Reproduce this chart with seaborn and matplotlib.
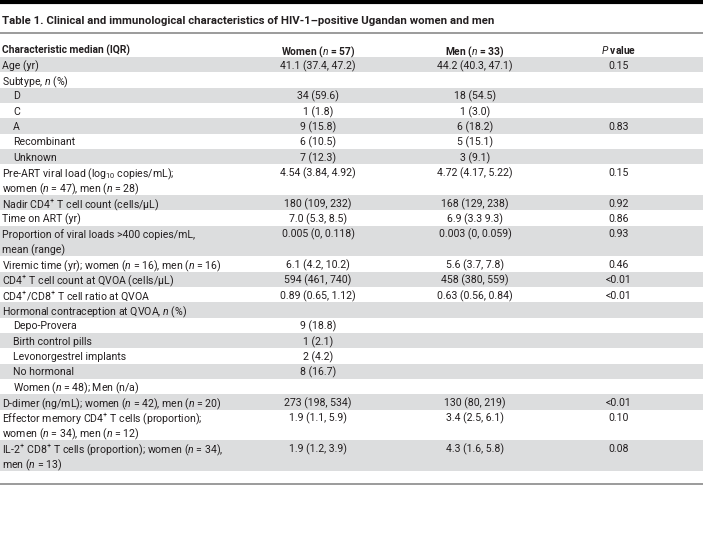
import matplotlib
matplotlib.use("Agg")
import matplotlib.pyplot as plt
import seaborn as sns

# table content
title = "Table 1. Clinical and immunological characteristics of HIV-1–positive Ugandan women and men"
headers = ["Characteristic median (IQR)", "Women ($n$ = 57)", "Men ($n$ = 33)", "$P$ value"]

characteristics = [
    "Age (yr)",
    "Subtype, $n$ (%)",
    "D", "C", "A", "Recombinant", "Unknown",
    "Pre-ART viral load (log$_{10}$ copies/mL);\nwomen ($n$ = 47), men ($n$ = 28)",
    "Nadir CD4$^{+}$ T cell count (cells/μL)",
    "Time on ART (yr)",
    "Proportion of viral loads >400 copies/mL,\nmean (range)",
    "Viremic time (yr); women ($n$ = 16), men ($n$ = 16)",
    "CD4$^{+}$ T cell count at QVOA (cells/μL)",
    "CD4$^{+}$/CD8$^{+}$ T cell ratio at QVOA",
    "Hormonal contraception at QVOA, $n$ (%)",
    "Depo-Provera", "Birth control pills", "Levonorgestrel implants", "No hormonal",
    "Women ($n$ = 48); Men (n/a)",
    "D-dimer (ng/mL); women ($n$ = 42), men ($n$ = 20)",
    "Effector memory CD4$^{+}$ T cells (proportion);\nwomen ($n$ = 34), men ($n$ = 12)",
    "IL-2$^{+}$ CD8$^{+}$ T cells (proportion); women ($n$ = 34),\nmen ($n$ = 13)",
]
indented = [False, False, True, True, True, True, True, False, False, False, False,
            False, False, False, False, True, True, True, True, True, False, False, False]
women = ["41.1 (37.4, 47.2)", "", "34 (59.6)", "1 (1.8)", "9 (15.8)", "6 (10.5)", "7 (12.3)",
         "4.54 (3.84, 4.92)", "180 (109, 232)", "7.0 (5.3, 8.5)", "0.005 (0, 0.118)",
         "6.1 (4.2, 10.2)", "594 (461, 740)", "0.89 (0.65, 1.12)", "", "9 (18.8)", "1 (2.1)",
         "2 (4.2)", "8 (16.7)", "", "273 (198, 534)", "1.9 (1.1, 5.9)", "1.9 (1.2, 3.9)"]
men = ["44.2 (40.3, 47.1)", "", "18 (54.5)", "1 (3.0)", "6 (18.2)", "5 (15.1)", "3 (9.1)",
       "4.72 (4.17, 5.22)", "168 (129, 238)", "6.9 (3.3 9.3)", "0.003 (0, 0.059)",
       "5.6 (3.7, 7.8)", "458 (380, 559)", "0.63 (0.56, 0.84)", "", "", "", "", "", "",
       "130 (80, 219)", "3.4 (2.5, 6.1)", "4.3 (1.6, 5.8)"]
pvals = ["0.15", "", "", "", "0.83", "", "", "0.15", "0.92", "0.86", "0.93", "0.46",
         "<0.01", "<0.01", "", "", "", "", "", "", "<0.01", "0.10", "0.08"]

sns.set_theme(style="white")
plt.rcParams["font.family"] = ["Roboto", "DejaVu Sans"]
plt.rcParams["mathtext.fontset"] = "custom"
plt.rcParams["mathtext.rm"] = "Roboto"
plt.rcParams["mathtext.it"] = "Roboto:italic"
plt.rcParams["mathtext.bf"] = "Roboto:bold"

ink = "#231f20"
shade = "#dcddde"
fs = 7.6
line_h = 15.33
body_top = 57
col_x = [2, 318, 475, 619]

fig = plt.figure(figsize=(7.03, 5.35), dpi=100)
ax = fig.add_axes([0, 0, 1, 1])
ax.set_xlim(0, 703)
ax.set_ylim(535, 0)
ax.axis("off")

# rules
ax.axhline(1.5, color="black", lw=3)
ax.axhline(33, color="#808080", lw=1.1)

ax.text(2, 20, title, fontsize=8.2, fontweight="bold", color=ink, va="center_baseline")
for i, h in enumerate(headers):
    ax.text(col_x[i], 49, h, fontsize=7.4, fontweight="bold", color=ink,
            ha="left" if i == 0 else "center", va="center_baseline")

y = body_top
for i, label in enumerate(characteristics):
    lines = label.split("\n")
    h = line_h * len(lines)
    if i % 2 == 0:
        ax.axhspan(y, y + h, color=shade, lw=0, zorder=0)
    x0 = 13 if indented[i] else 2
    for k, ln in enumerate(lines):
        ax.text(x0, y + line_h * (k + 0.5), ln, fontsize=fs, color=ink, va="center_baseline")
    for j, val in enumerate([women[i], men[i], pvals[i]]):
        ax.text(col_x[j + 1], y + line_h * 0.5, val, fontsize=fs, color=ink,
                ha="center", va="center_baseline")
    y += h

ax.axhline(y + 13, color="#808080", lw=1.1)

fig.savefig("out.png", dpi=100, facecolor="white")
